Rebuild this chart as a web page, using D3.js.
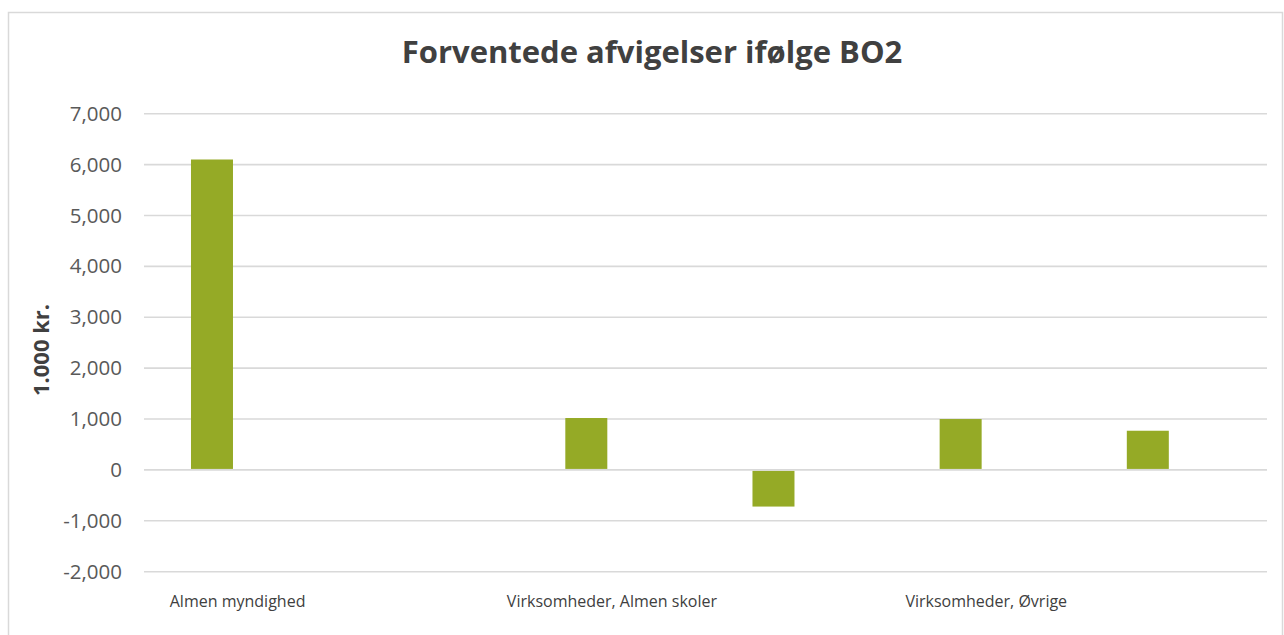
<!DOCTYPE html>
<html>
<head>
<meta charset="utf-8">
<script src="https://cdnjs.cloudflare.com/ajax/libs/d3/7.8.5/d3.min.js"></script>
<style>
  body { margin: 0; background: #fff; }
  text { font-family: "Open Sans", "Noto Sans", sans-serif; }
</style>
</head>
<body>
<div id="chart"></div>
<script>
// categories (only every other label is shown on the axis, like the original)
var categories = ["Almen myndighed", "Almen myndighed, øvrige",
                  "Virksomheder, Almen skoler", "Virksomheder, skoler øvrige",
                  "Virksomheder, Øvrige", "Virksomheder, andre"];
var values = [6100, null, 1020, -720, 1000, 770];
var yTicks = [-2000, -1000, 0, 1000, 2000, 3000, 4000, 5000, 6000, 7000];
var shownLabels = ["Almen myndighed", "Virksomheder, Almen skoler", "Virksomheder, Øvrige"];

var W = 1284, H = 635;
var margin = {top: 113.7, right: 17, bottom: 63.3, left: 144},
    width = W - margin.left - margin.right,
    height = H - margin.top - margin.bottom;

var svg = d3.select("#chart")
  .append("svg")
    .attr("width", W)
    .attr("height", H);

// outer chart frame
svg.append("rect")
  .attr("x", 8.5).attr("y", 12.5)
  .attr("width", 1274).attr("height", 640)
  .attr("fill", "none")
  .attr("stroke", "#d9d9d9")
  .attr("stroke-width", 1.5);

// title
svg.append("text")
  .attr("x", 652).attr("y", 63)
  .attr("text-anchor", "middle")
  .style("font-size", "31px")
  .style("font-weight", "bold")
  .style("fill", "#404040")
  .text("Forventede afvigelser ifølge BO2");

var g = svg.append("g")
  .attr("transform", "translate(" + margin.left + "," + margin.top + ")");

var x = d3.scaleBand()
  .domain(categories)
  .range([0, width])
  .padding(0);

var y = d3.scaleLinear()
  .domain([-2000, 7000])
  .range([height, 0]);

// gridlines
g.append("g")
  .selectAll("line")
  .data(yTicks)
  .enter()
  .append("line")
    .attr("x1", 0)
    .attr("x2", width)
    .attr("y1", function(d) { return y(d); })
    .attr("y2", function(d) { return y(d); })
    .attr("stroke", "#d9d9d9")
    .attr("stroke-width", 1.6);

// Y axis labels (hyphen minus like the original)
var fmt = d3.format(",");
var yAxis = g.append("g")
  .attr("transform", "translate(-22,0)")
  .call(d3.axisLeft(y).tickValues(yTicks).tickSize(0)
    .tickFormat(function(d) { return fmt(d).replace("\u2212", "-"); }));
yAxis.select(".domain").remove();
yAxis.selectAll("text")
  .style("font-size", "20.5px")
  .style("fill", "#595959")
  .attr("x", 0);

// bars
g.append("g")
  .selectAll("rect")
  .data(values.map(function(v, i) { return {cat: categories[i], v: v}; })
               .filter(function(d) { return d.v !== null; }))
  .enter()
  .append("rect")
    .attr("x", function(d) { return x(d.cat) + x.bandwidth() * 0.251; })
    .attr("width", x.bandwidth() * 0.2244)
    .attr("y", function(d) { return d.v >= 0 ? y(d.v) : y(0) + 1; })
    .attr("height", function(d) { return d.v >= 0 ? y(0) - y(d.v) - 1 : y(d.v) - y(0) - 1; })
    .style("fill", "#95aa26");

// X axis labels
var xAxis = g.append("g")
  .attr("transform", "translate(0," + height + ")")
  .call(d3.axisBottom(x).tickSize(0)
    .tickFormat(function(d) { return shownLabels.indexOf(d) >= 0 ? d : ""; }));
xAxis.select(".domain").remove();
xAxis.selectAll("text")
  .style("font-size", "16px")
  .style("fill", "#404040")
  .attr("dy", "1.1em")
  .attr("y", 18);

// Y axis title
svg.append("text")
  .attr("transform", "translate(49,350)rotate(-90)")
  .attr("text-anchor", "middle")
  .style("font-size", "22px")
  .style("font-weight", "bold")
  .style("fill", "#404040")
  .text("1.000 kr.");
</script>
</body>
</html>
